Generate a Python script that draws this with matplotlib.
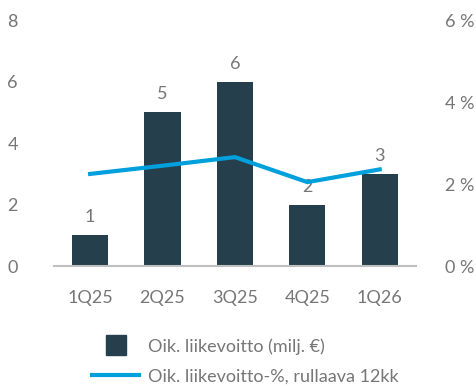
import numpy as np
import matplotlib
matplotlib.use("Agg")
import matplotlib.pyplot as plt
from matplotlib.lines import Line2D

quarters = ["1Q25", "2Q25", "3Q25", "4Q25", "1Q26"]
profit = [1, 5, 6, 2, 3]                     # milj. EUR
margin = [2.25, 2.45, 2.66, 2.05, 2.36]      # %, rolling 12 months
left_ticks = [0, 2, 4, 6, 8]
right_ticks = [0, 2, 4, 6]

bar_col = "#263f4c"
line_col = "#00a0dc"
txt_col = "#767676"
fs = 13

plt.rcParams["font.family"] = ["Lato", "DejaVu Sans"]

fig = plt.figure(figsize=(4.77, 3.88), dpi=100)
ax = fig.add_axes([0.113, 0.314, 0.759, 0.634])
x = np.arange(len(quarters))

ax.bar(x, profit, width=0.5, color=bar_col, zorder=2)
for xi, v in zip(x, profit):
    ax.text(xi, v + 0.33, str(v), ha="center", va="bottom",
            fontsize=fs, color=txt_col, zorder=4)

ax.set_xlim(-0.5, 4.5)
ax.set_ylim(0, 8)
ax.set_yticks(left_ticks)
ax.set_xticks(x)
ax.set_xticklabels(quarters)
for s in ["top", "right", "left"]:
    ax.spines[s].set_visible(False)
ax.spines["bottom"].set_color("#bfbfbf")
ax.spines["bottom"].set_linewidth(1.5)
ax.tick_params(length=0, labelsize=fs, labelcolor=txt_col)
ax.tick_params(axis="x", pad=17)
ax.tick_params(axis="y", pad=26)

ax2 = ax.twinx()
ax2.plot(x, margin, color=line_col, lw=3, zorder=3)
ax2.set_ylim(0, 6)
ax2.set_yticks(right_ticks)
ax2.set_yticklabels([f"{t} %" for t in right_ticks])
for s in ax2.spines.values():
    s.set_visible(False)
ax2.tick_params(length=0, labelsize=fs, labelcolor=txt_col, pad=21)

handles = [Line2D([], [], color=bar_col, marker="s", markersize=14, linestyle="none"),
           Line2D([], [], color=line_col, lw=3)]
labels = ["Oik. liikevoitto (milj. €)", "Oik. liikevoitto-%, rullaava 12kk"]
leg = fig.legend(handles, labels, loc="center", bbox_to_anchor=(0.515, 0.069),
                 frameon=False, fontsize=fs, handlelength=2.6, handletextpad=0.5,
                 labelspacing=0.75)
for t in leg.get_texts():
    t.set_color(txt_col)

fig.savefig("out.png", dpi=100)
